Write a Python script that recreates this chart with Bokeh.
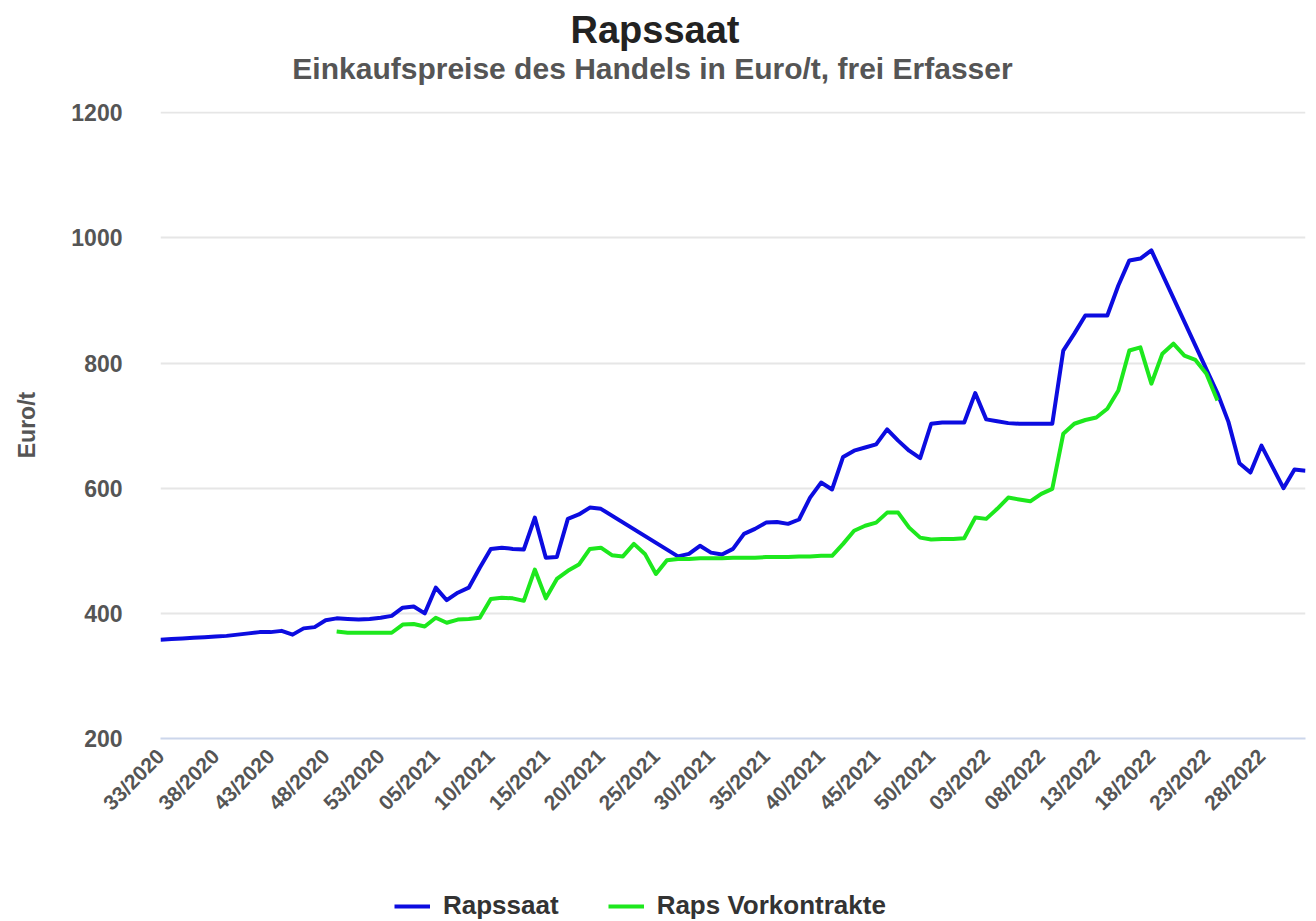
import math
from bokeh.plotting import figure
from bokeh.layouts import column
from bokeh.models import (Div, Legend, LegendItem, FixedTicker, Range1d,
                          ColumnDataSource)
from bokeh.embed import file_html
from bokeh.resources import INLINE

# ---------------- data ----------------
weeks = ([f"{w:02d}/2020" for w in range(33, 54)] +
         [f"{w:02d}/2021" for w in range(1, 53)] +
         [f"{w:02d}/2022" for w in range(1, 33)])

rapssaat = [
    358, 359, 360, 361, 362, 363, 364, 366, 368, 370,
    370, 372, 366, 376, 378, 389, 392, 391, 390, 391,
    393, 396, 409, 411, 400, 441, 421, 433, 441, 473,
    503, 505, 503, 502, 553, 489, 490, 551, 558, 569,
    567, None, None, None, None, None, None, 491, 495, 508,
    497, 494, 503, 527, 535, 545, 546, 543, 550, 585,
    609, 598, 650, 660, 665, 670, 694, 676, 660, 648,
    703, 705, 705, 705, 752, 710, 707, 704, 703, 703,
    703, 703, 820, 847, 876, 876, 876, 924, 964, 967,
    980, None, None, None, None, None, 752, 706, 640, 625,
    668, 634, 600, 630, 628,
]

vorkontrakte = [
    None, None, None, None, None, None, None, None, None, None,
    None, None, None, None, None, None, 371, 369, 369, 369,
    369, 369, 382, 383, 379, 393, 385, 390, 391, 393,
    423, 425, 424, 420, 470, 424, 455, 468, 478, 503,
    505, 493, 491, 511, 495, 463, 485, 487, 487, 488,
    488, 488, 489, 489, 489, 490, 490, 490, 491, 491,
    492, 492, 511, 532, 540, 545, 561, 561, 537, 521,
    518, 519, 519, 520, 553, 551, 567, 585, 582, 579,
    591, 599, 687, 703, 709, 713, 727, 756, 820, 825,
    767, 815, 831, 812, 805, 783, 740, None, None, None,
    None, None, None, None, None,
]

y_ticks = [200, 400, 600, 800, 1000, 1200]
label_step = 5

title_text = "Rapssaat"
subtitle_text = "Einkaufspreise des Handels in Euro/t, frei Erfasser"
y_label = "Euro/t"
series_names = ["Rapssaat", "Raps Vorkontrakte"]
series_colors = ["#0c0ce0", "#1de81d"]


def present(values):
    xs = [i for i, v in enumerate(values) if v is not None]
    ys = [v for v in values if v is not None]
    return ColumnDataSource(dict(x=xs, y=ys, week=[weeks[i] for i in xs]))


FONT = "Liberation Sans"
GREY = "#555555"

# ---------------- header (title + subtitle) ----------------
header_html = (
    '<div style="position:relative;width:1316px;height:92px;'
    f"font-family:'{FONT}';font-weight:bold;\">"
    '<div style="position:absolute;left:0;top:11px;width:1310px;'
    'text-align:center;font-size:38px;line-height:38px;color:#222222;'
    f'white-space:nowrap;">{title_text}</div>'
    '<div style="position:absolute;left:0;top:54px;width:1305px;'
    f'text-align:center;font-size:30px;line-height:30px;color:{GREY};'
    f'white-space:nowrap;">{subtitle_text}</div>'
    '</div>'
)
header = Div(text=header_html, width=1316, height=92,
             styles={"margin": "0", "padding": "0"})

# ---------------- chart ----------------
p = figure(frame_width=1145, frame_height=627, output_backend="svg",
           toolbar_location=None,
           x_range=Range1d(0, len(weeks) - 1), y_range=Range1d(200, 1202),
           min_border_left=160, min_border_right=11, min_border_top=19,
           min_border_bottom=143, title=None)
p.outline_line_color = None
p.background_fill_color = "white"
p.border_fill_color = "white"

src_r = present(rapssaat)
src_v = present(vorkontrakte)
r1 = p.line("x", "y", source=src_r, line_color=series_colors[0],
            line_width=4, line_join="round")
r2 = p.line("x", "y", source=src_v, line_color=series_colors[1],
            line_width=4, line_join="round")

xt = list(range(0, len(weeks), label_step))
p.xaxis.ticker = FixedTicker(ticks=xt)
p.xaxis.major_label_overrides = {i: weeks[i] for i in xt}
p.xaxis.major_label_orientation = math.pi / 4
p.xaxis.major_tick_line_color = None
p.xaxis.minor_tick_line_color = None
p.xaxis.axis_line_color = "#ccd6eb"
p.xaxis.axis_line_width = 2
p.xaxis.major_label_text_font = FONT
p.xaxis.major_label_text_font_size = "21px"
p.xaxis.major_label_text_font_style = "bold"
p.xaxis.major_label_text_color = GREY
p.xaxis.major_label_standoff = 8

p.yaxis.ticker = FixedTicker(ticks=y_ticks)
p.yaxis.axis_line_color = None
p.yaxis.major_tick_line_color = None
p.yaxis.minor_tick_line_color = None
p.yaxis.major_label_text_font = FONT
p.yaxis.major_label_text_font_size = "23px"
p.yaxis.major_label_text_font_style = "bold"
p.yaxis.major_label_text_color = GREY
p.yaxis.major_label_standoff = 32
p.yaxis.axis_label = y_label
p.yaxis.axis_label_text_font = FONT
p.yaxis.axis_label_text_font_size = "23px"
p.yaxis.axis_label_text_font_style = "bold"
p.yaxis.axis_label_text_color = GREY
p.yaxis.axis_label_standoff = 28

p.xgrid.visible = False
p.ygrid.grid_line_color = "#e6e6e6"
p.ygrid.grid_line_width = 2

# ---------------- legend strip ----------------
# the series are repeated here only so that the legend has renderers;
# they fall outside this strip's ranges and are not visible.
lg = figure(width=1316, height=40, output_backend="svg", toolbar_location=None,
            x_range=Range1d(-3, -2), y_range=Range1d(-3, -2), min_border=0,
            title=None)
lg.axis.visible = False
lg.grid.visible = False
lg.outline_line_color = None
lg.border_fill_color = "white"
s1 = lg.line("x", "y", source=src_r, line_color=series_colors[0], line_width=4)
s2 = lg.line("x", "y", source=src_v, line_color=series_colors[1], line_width=4)
legend = Legend(items=[LegendItem(label=series_names[0], renderers=[s1]),
                       LegendItem(label=series_names[1], renderers=[s2])],
                orientation="horizontal", location=(234, 0),
                label_text_font=FONT, label_text_font_size="26px",
                label_text_font_style="bold", label_text_color="#333333",
                glyph_width=36, glyph_height=22, spacing=49,
                border_line_color=None, background_fill_alpha=0,
                margin=0, padding=2, label_standoff=13)
lg.add_layout(legend, "center")

layout = column(header, p, lg, spacing=0)
open("out.html", "w").write(file_html(layout, INLINE))
